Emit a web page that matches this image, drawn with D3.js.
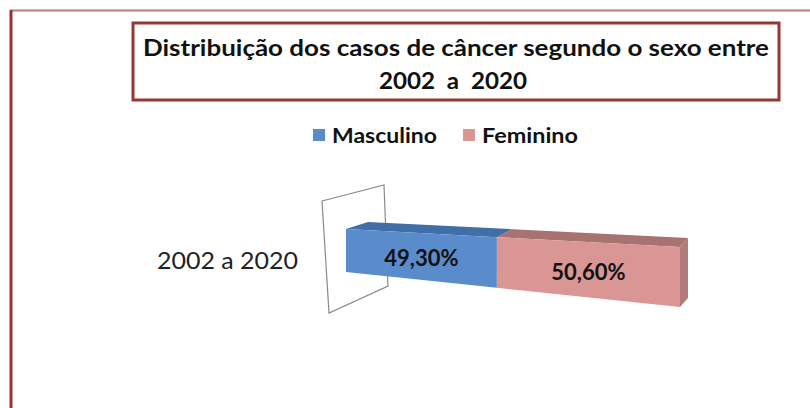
<!DOCTYPE html>
<html><head><meta charset="utf-8">
<script src="https://cdn.jsdelivr.net/npm/d3@7/dist/d3.min.js"></script>
<style>body{margin:0;background:#fff}svg{display:block}text{font-family:Lato,"Open Sans",sans-serif}</style>
</head><body><svg id="c" width="810" height="408"></svg>
<script>
const categories = ["2002 a 2020"];
const seriesNames = ["Masculino", "Feminino"];
const values = [49.30, 50.60];
const valueLabels = ["49,30%", "50,60%"];
const titleLines = ["Distribuição dos casos de câncer segundo o sexo entre", "2002  a  2020"];
const frontColors = ["#5a8ccb", "#d99694"];
const topColors = ["#406fa8", "#a87270"];
const sideColors = ["#3f6aa0", "#b27a78"];

const svg = d3.select("#c");

// outer frame
svg.append("path").attr("d","M810,10.5H10").attr("stroke","#c0797a").attr("stroke-width",2).attr("fill","none");
svg.append("path").attr("d","M11,10V408").attr("stroke","#9a3032").attr("stroke-width",3).attr("fill","none");

// title box
svg.append("rect").attr("x",133).attr("y",23).attr("width",646).attr("height",77)
  .attr("fill","#fff").attr("stroke","#953735").attr("stroke-width",3);
const tl = [[456,56,626,23],[453,89,148,23]];
titleLines.forEach((t,i)=>{
  svg.append("text").attr("x",tl[i][0]).attr("y",tl[i][1]).attr("text-anchor","middle")
    .attr("font-size",tl[i][3]).attr("font-weight","bold").attr("fill","#111")
    .style("white-space","pre")
    .attr("textLength",tl[i][2]).attr("lengthAdjust","spacingAndGlyphs").text(t);
});

// legend
const legX = [313, 463], legW = [105, 96];
seriesNames.forEach((n,i)=>{
  svg.append("rect").attr("x",legX[i]).attr("y",129).attr("width",12).attr("height",12).attr("fill",frontColors[i]);
  svg.append("text").attr("x",legX[i]+19).attr("y",143).attr("font-size",20).attr("font-weight","bold")
    .attr("fill","#111").attr("textLength",legW[i]).attr("lengthAdjust","spacingAndGlyphs").text(n);
});

// scales
const total = d3.sum(values);
const x = d3.scalePow().exponent(1.125).domain([0,total]).range([346,680]);
const y = d3.scaleBand().domain(categories).range([180,340]);
const topY = d3.scaleLinear().domain([346,680]).range([229,247]);
const botY = d3.scaleLinear().domain([346,680]).range([272,307]);
const depX = d3.scaleLinear().domain([346,680]).range([22,8]);
const depY = d3.scaleLinear().domain([346,680]).range([-7,-9]);

// back wall
svg.append("path").attr("d","M322,201L384,185L388,286L329,313Z").attr("fill","#fff")
  .attr("stroke","#8a8a8a").attr("stroke-width",1.2);

// category label
categories.forEach(c=>{
  svg.append("text").attr("x",298).attr("y",y(c)+y.bandwidth()/2+9).attr("text-anchor","end")
    .attr("font-size",24).attr("fill","#222").attr("textLength",141).attr("lengthAdjust","spacingAndGlyphs").text(c);
});

const stack = [];
let acc = 0;
values.forEach((v,i)=>{stack.push([acc, acc+v]); acc+=v;});
const line = d3.line();
stack.forEach((s,i)=>{
  const x0 = x(s[0]), x1 = x(s[1]);
  svg.append("path").attr("fill",topColors[i]).attr("d", line([
    [x0,topY(x0)],[x0+depX(x0),topY(x0)+depY(x0)],[x1+depX(x1),topY(x1)+depY(x1)],[x1,topY(x1)]])+"Z");
  svg.append("path").attr("fill",frontColors[i]).attr("d", line([
    [x0,topY(x0)],[x1,topY(x1)],[x1,botY(x1)],[x0,botY(x0)]])+"Z");
  if(i===stack.length-1){
    svg.append("path").attr("fill",sideColors[i]).attr("d", line([
      [x1,topY(x1)],[x1+depX(x1),topY(x1)+depY(x1)],[x1+depX(x1),botY(x1)+depY(x1)],[x1,botY(x1)]])+"Z");
  }
  const cx = (x0+x1)/2;
  svg.append("text").attr("x",cx).attr("y",(topY(cx)+botY(cx))/2+10).attr("text-anchor","middle")
    .attr("font-size",22).attr("font-weight","bold").attr("fill","#111").text(valueLabels[i]);
});
</script></body></html>
